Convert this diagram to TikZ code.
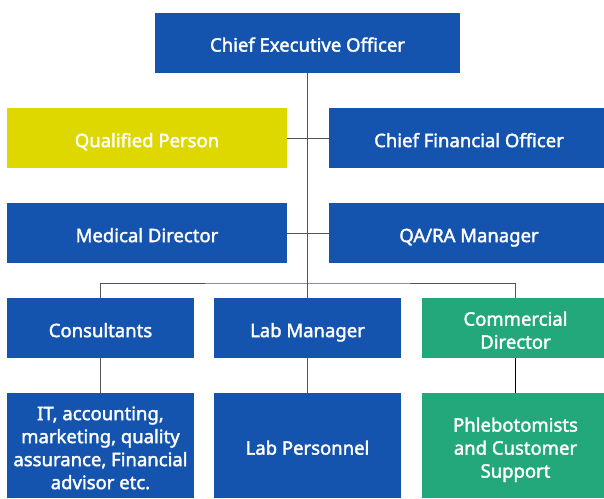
\documentclass[tikz,border=0pt]{standalone}
\usepackage{fontspec}
\setmainfont{Noto Sans}[UprightFeatures={FakeBold=2}]
\definecolor{boxblue}{RGB}{21,84,174}
\definecolor{boxyellow}{RGB}{222,216,0}
\definecolor{boxgreen}{RGB}{34,168,122}
\definecolor{linegray}{RGB}{85,85,85}
\newcommand{\boxtext}[1]{\raisebox{-4.5pt}[\height][\depth]{\begin{tabular}{@{}c@{}}#1\end{tabular}}}
\begin{document}
\begin{tikzpicture}[x=1pt,y=-1pt,
  box/.style={rectangle, fill=boxblue, text=white, inner sep=0pt, outer sep=0pt,
    font=\fontsize{18.5}{23}\selectfont},
  wide/.style={box, minimum width=280, minimum height=60},
  narrow/.style={box, minimum width=187, minimum height=60},
  tall/.style={box, minimum width=187, minimum height=105},
  conn/.style={draw=linegray, line width=1pt}]
\useasboundingbox (0,0) rectangle (604,498);
\begin{scope}
\clip (0,0) rectangle (604,498);
\node[box, minimum width=305, minimum height=60] (ceo) at (307.5,42.5) {\boxtext{Chief Executive Officer}};
\node[wide, fill=boxyellow] (qp) at (147,138) {\boxtext{Qualified Person}};
\node[wide] (cfo) at (469,138) {\boxtext{Chief Financial Officer}};
\node[wide] (md) at (147,233) {\boxtext{Medical Director}};
\node[wide] (qa) at (469,233) {\boxtext{QA/RA Manager}};
\node[narrow] (cons) at (100.5,328) {\boxtext{Consultants}};
\node[narrow] (lm) at (307.5,328) {\boxtext{Lab Manager}};
\node[narrow, fill=boxgreen] (cd) at (515.5,328) {\boxtext{Commercial\\Director}};
\node[tall] (it) at (100.5,445.5) {\boxtext{IT, accounting,\\marketing, quality\\assurance, Financial\\advisor etc.}};
\node[tall] (lp) at (307.5,445.5) {\boxtext{Lab Personnel}};
\node[tall, fill=boxgreen] (ph) at (515.5,445.5) {\boxtext{Phlebotomists\\and Customer\\Support}};
\end{scope}
\coordinate (bus) at (307.5,283);
\draw[conn] (ceo.south) -- (lm.north);
\draw[conn] (qp.east) -- (cfo.west);
\draw[conn] (md.east) -- (qa.west);
\draw[conn] (cons.north) |- (bus) -| (cd.north);
\draw[conn] (cons.south) -- (it.north);
\draw[conn] (lm.south) -- (lp.north);
\draw[conn, draw=black] (cd.south) -- (ph.north);
\end{tikzpicture}
\end{document}
